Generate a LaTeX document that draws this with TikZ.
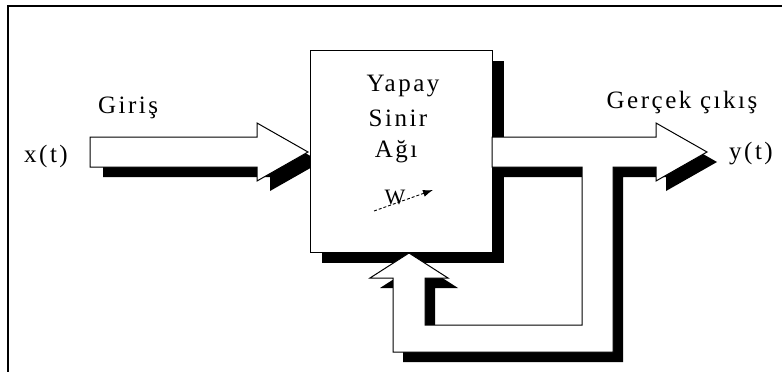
\documentclass[tikz,border=0pt]{standalone}
\usepackage{fontspec}
\setmainfont{Liberation Serif}[LetterSpace=10]
\usetikzlibrary{arrows.meta,shadows}

\begin{document}
\begin{tikzpicture}[x=1pt,y=-1pt,
  blockline/.style={draw=black,line width=1pt,fill=white,line join=miter},
  shadowA/.style={drop shadow={shadow xshift=13pt,shadow yshift=-10pt,fill=black,opacity=1}},
  shadowB/.style={drop shadow={shadow xshift=12pt,shadow yshift=-11pt,fill=black,opacity=1}},
  shadowC/.style={drop shadow={shadow xshift=10pt,shadow yshift=-10pt,fill=black,opacity=1}},
  lbl/.style={inner sep=0pt,anchor=base,font=\fontsize{25}{29}\selectfont},
  wlbl/.style={inner sep=0pt,anchor=base,font=\fontsize{22}{26}\selectfont}]
\useasboundingbox (0,0) rectangle (782,372);

% outer frame (top and left edges)
\draw[line width=1.6pt] (8,372) -- (8,6) -- (782,6);

% input block arrow
\path[blockline,shadowA] (90,137) -- (257,137) -- (257,123) -- (308,152)
  -- (257,181) -- (257,167) -- (90,167) -- cycle;

% network block
\node[blockline,shadowB,minimum width=182pt,minimum height=202pt,inner sep=0pt]
  (ann) at (401,151) {};

% output block arrow with the feedback loop back into the block
\path[blockline,shadowC] (492,137) -- (656,137) -- (656,123) -- (707,152)
  -- (656,181) -- (656,167) -- (613,167) -- (613,352) -- (393,352)
  -- (393,278) -- (370,278) -- (409,253) -- (448,278) -- (425,278)
  -- (425,325) -- (582,325) -- (582,167) -- (492,167) -- cycle;

% block text
\node[lbl] (t1) at (403,91) {Yapay};
\node[lbl] (t2) at (398,126) {Sinir};
\node[lbl] (t3) at (396,157) {Ağı};
\node[wlbl] (w) at (395,204) {W};
\coordinate (wa) at (374,211);
\coordinate (wb) at (433,190);
\draw[densely dashed,line width=0.9pt,-{Latex[length=10pt,width=7pt]}] (wa) -- (wb);

% signal labels
\node[lbl] (gin) at (128,113) {Giriş};
\node[lbl] (xin) at (46,162) {x(t)};
\node[lbl] (gout) at (682,108) {Gerçek çıkış};
\node[lbl] (yout) at (751,159) {y(t)};
\end{tikzpicture}
\end{document}
